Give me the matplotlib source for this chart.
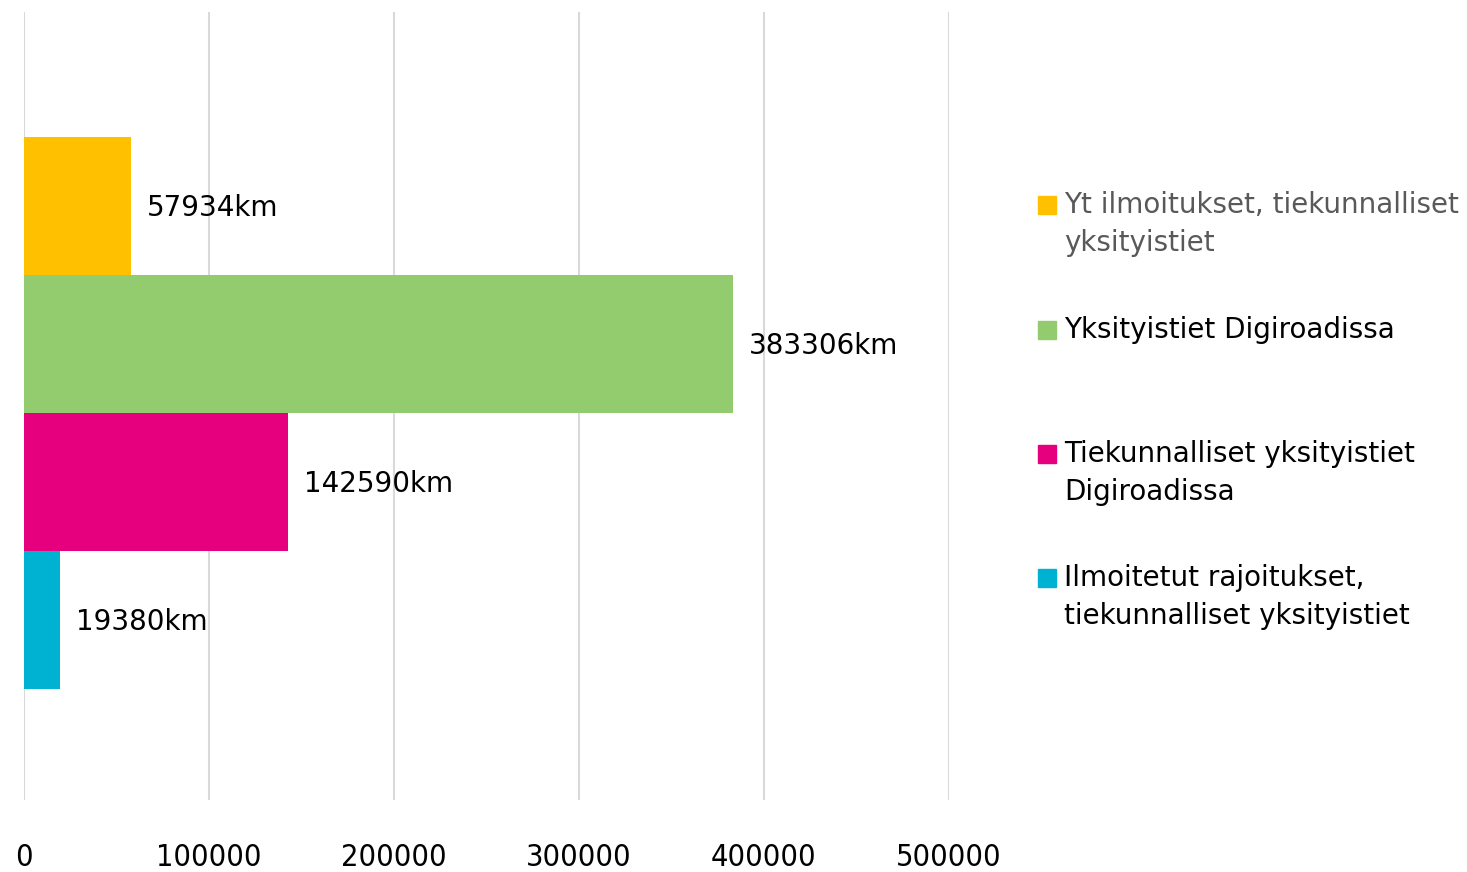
import matplotlib
matplotlib.use("Agg")
import matplotlib.pyplot as plt
from matplotlib.patches import Rectangle

plt.rcParams['font.family'] = ['DejaVu Sans']

# data
series = ["Yt ilmoitukset, tiekunnalliset\nyksityistiet",
          "Yksityistiet Digiroadissa",
          "Tiekunnalliset yksityistiet\nDigiroadissa",
          "Ilmoitetut rajoitukset,\ntiekunnalliset yksityistiet"]
values = [57934, 383306, 142590, 19380]
colors = ["#FFC000", "#92CC6F", "#E6007E", "#00B2D1"]
legend_text_colors = ["#595959", "#000000", "#000000", "#000000"]
x_ticks = [0, 100000, 200000, 300000, 400000, 500000]

fig = plt.figure(figsize=(14.67, 8.72), dpi=100)
ax = fig.add_axes([24 / 1467, 72 / 872, 925 / 1467, 788 / 872])

ypos = [3, 2, 1, 0]
ax.barh(ypos, values, height=1.0, color=colors, zorder=2)

for y, v in zip(ypos, values):
    ax.annotate(f"{v}km", (v, y), xytext=(11.5, -1.5), textcoords="offset points",
                ha="left", va="center", fontsize=20, color="black", zorder=3)

ax.set_xlim(0, 500000)
ax.set_ylim(-1.304, 4.406)
ax.set_xticks(x_ticks)
ax.set_xticklabels([str(t) for t in x_ticks], fontsize=22, stretch="condensed")
ax.set_yticks([])
ax.tick_params(axis="x", length=0, pad=31)
ax.grid(axis="x", color="#D9D9D9", linewidth=1.5, zorder=0)
for s in ax.spines.values():
    s.set_visible(False)

# legend, drawn by hand to keep Excel-like spacing
legend_y = [205, 330, 454, 578]
for lab, c, tc, yp in zip(series, colors, legend_text_colors, legend_y):
    yf = 1 - yp / 872
    fig.patches.append(Rectangle((1038 / 1467, yf - 9 / 872), 18 / 1467, 18 / 872,
                                 transform=fig.transFigure, color=c))
    fig.text(1064 / 1467, yf + 14 / 872, lab, fontsize=20, color=tc,
             ha="left", va="top", linespacing=1.45)

fig.savefig("out.png", dpi=100)
